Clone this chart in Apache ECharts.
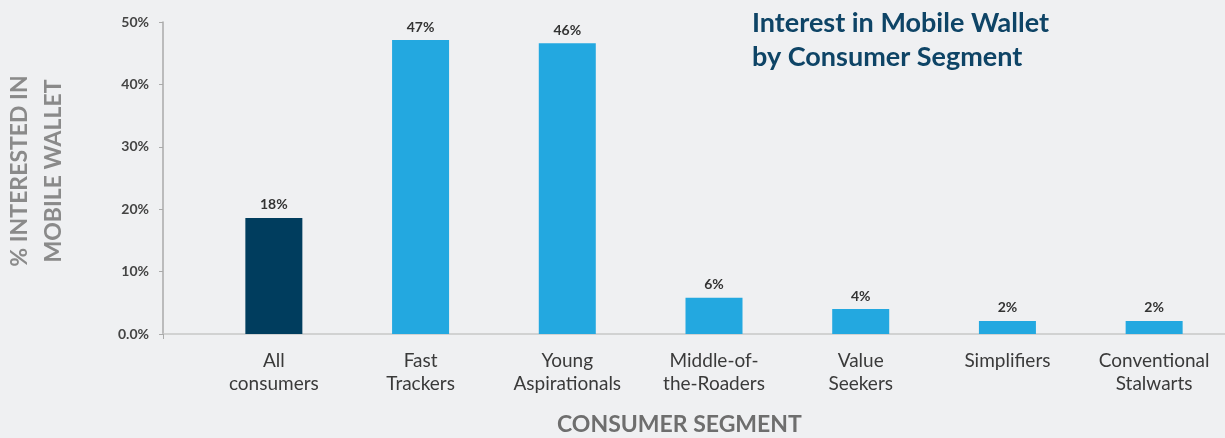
<!DOCTYPE html>
<html>
<head>
<meta charset="utf-8">
<script src="https://cdn.jsdelivr.net/npm/echarts@6/dist/echarts.min.js"></script>
<style>
  html, body { margin: 0; padding: 0; background: #eff0f2; }
  #chart { width: 1225px; height: 438px; }
</style>
</head>
<body>
<div id="chart"></div>
<script>
// data
var segments = ['All\nconsumers', 'Fast\nTrackers', 'Young\nAspirationals', 'Middle-of-\nthe-Roaders', 'Value\nSeekers', 'Simplifiers', 'Conventional\nStalwarts'];
var interest = [18.6, 47.1, 46.6, 5.8, 4.0, 2.1, 2.1];
var valueLabels = ['18%', '47%', '46%', '6%', '4%', '2%', '2%'];
var yTickLabels = ['0.0%', '10%', '20%', '30%', '40%', '50%'];

var myChart = echarts.init(document.getElementById('chart'));
var option = {
  backgroundColor: '#eff0f2',
  textStyle: { fontFamily: 'Lato' },
  title: [{
    text: 'Interest in Mobile Wallet\nby Consumer Segment',
    left: 747,
    top: 1,
    textStyle: { fontFamily: 'Lato', fontSize: 27, fontWeight: 'bold', color: '#0e4466', lineHeight: 34 }
  }, {
    text: 'CONSUMER SEGMENT',
    left: 552,
    top: 408,
    textStyle: { fontFamily: 'Lato', fontSize: 23, fontWeight: 'bold', color: '#6e6e6e' }
  }],
  grid: [
    { left: 200.5, right: -2.5, top: 22, bottom: 104, outerBoundsMode: 'none' },
    { left: 163, right: 0, top: 22, bottom: 104, outerBoundsMode: 'none' }
  ],
  xAxis: [{
    type: 'category',
    gridIndex: 0,
    data: segments,
    axisLine: { show: false },
    axisTick: { show: false },
    axisLabel: { fontFamily: 'Lato', fontSize: 19, color: '#3a3a3a', lineHeight: 23, margin: 15 }
  }, {
    // extends the base line under the gap left of the first bar
    type: 'value',
    gridIndex: 1,
    min: 0,
    max: 1,
    interval: 1,
    axisLine: { show: true, lineStyle: { color: '#c8c8c8', width: 1.5 } },
    axisTick: { show: true, length: 5, lineStyle: { color: '#aaa' } },
    axisLabel: { show: false },
    splitLine: { show: false }
  }],
  yAxis: [{
    type: 'value',
    gridIndex: 0,
    min: 0,
    max: 50,
    interval: 10,
    offset: 37.5,
    name: '% INTERESTED IN\nMOBILE WALLET',
    nameLocation: 'middle',
    nameGap: 92,
    nameTextStyle: { fontFamily: 'Lato', fontSize: 23, fontWeight: 'bold', color: '#8a8a8a', lineHeight: 34, padding: [0, 0, 0, 14] },
    axisLine: { show: true, lineStyle: { color: '#aaa', width: 1.5 } },
    axisTick: { show: true, length: 4, lineStyle: { color: '#aaa' } },
    axisLabel: {
      fontFamily: 'Lato', fontSize: 14, fontWeight: 'bold', color: '#444', margin: 14,
      formatter: function (v, i) { return yTickLabels[i]; }
    },
    splitLine: { show: false }
  }, {
    type: 'value',
    gridIndex: 1,
    show: false
  }],
  series: [{
    type: 'bar',
    xAxisIndex: 0,
    yAxisIndex: 0,
    data: interest,
    barWidth: 57,
    itemStyle: {
      color: function (p) { return p.dataIndex === 0 ? '#003d5e' : '#23a8e0'; }
    },
    label: {
      show: true,
      position: 'top',
      distance: 6,
      fontFamily: 'Lato',
      fontSize: 14,
      fontWeight: 'bold',
      color: '#333',
      formatter: function (p) { return valueLabels[p.dataIndex]; }
    }
  }]
};
myChart.setOption(option);
</script>
</body>
</html>
